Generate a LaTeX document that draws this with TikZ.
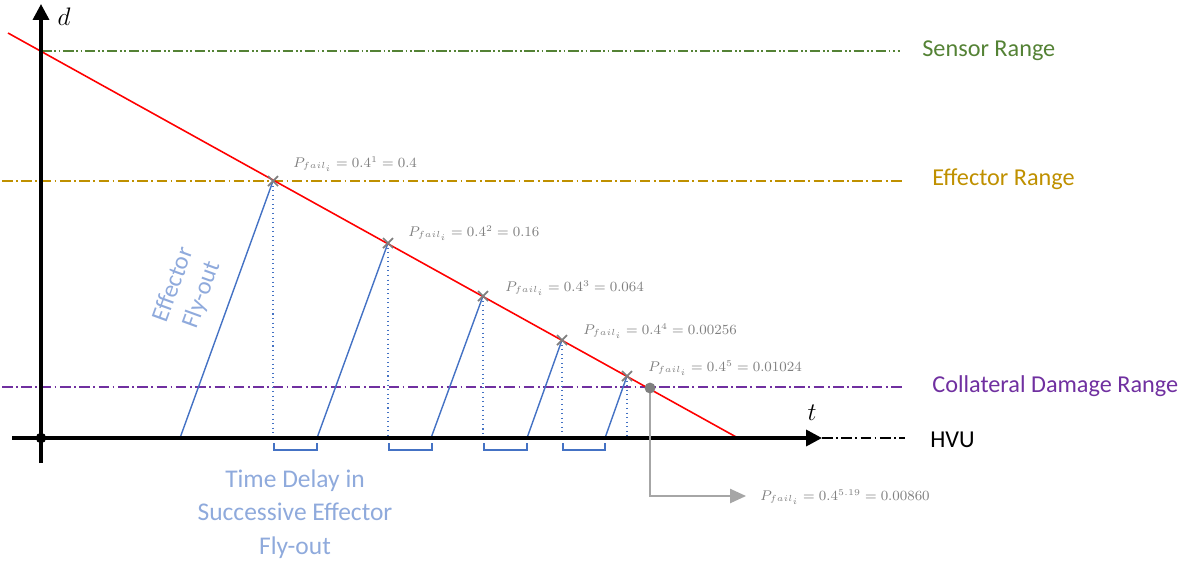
\documentclass[tikz,border=0pt]{standalone}
\usepackage{fontspec}
\setmainfont{Carlito}
\usetikzlibrary{arrows.meta,calc}
\definecolor{sensorgreen}{HTML}{548235}
\definecolor{effgold}{HTML}{BF9000}
\definecolor{collpurple}{HTML}{7030A0}
\definecolor{flyblue}{HTML}{4472C4}
\definecolor{lightblue}{HTML}{8FAADC}
\definecolor{labgray}{HTML}{7F7F7F}
\definecolor{arrgray}{HTML}{A6A6A6}
\tikzset{
  axisline/.style={line width=2pt,-{Triangle[width=9pt,length=9pt]}},
  rangeline/.style={line width=0.8pt,dash pattern=on 6pt off 2pt on 1pt off 2pt},
  sensorline/.style={line width=0.8pt,dash pattern=on 6pt off 1.5pt on 1pt off 1.5pt on 1pt off 1.5pt},
  flyline/.style={flyblue,line width=0.8pt},
  dropline/.style={flyblue,line width=0.6pt,dotted},
  bracketline/.style={flyblue,line width=0.8pt},
  pfail/.style={labgray,anchor=west,inner sep=0pt,font=\fontsize{7.8}{9}\selectfont},
  rangelabel/.style={anchor=west,inner sep=0pt,font=\fontsize{13.8}{16}\selectfont},
  crossmark/.style={labgray,line width=1pt},
}
\begin{document}
\begin{tikzpicture}[x=0.02cm,y=-0.02cm]
\useasboundingbox (0,0) rectangle (1200,562);
% coordinates
\coordinate (o) at (41,438);
\coordinate (ybot) at (41,463);
\coordinate (ytop) at (41,4);
\coordinate (xleft) at (12,438);
\coordinate (xright) at (822,438);
\coordinate (hvuend) at (905,438);
\coordinate (r1) at (8,33);
\coordinate (r2) at (738,438);
\coordinate (c1) at (273,181);
\coordinate (c2) at (388,243);
\coordinate (c3) at (483,296);
\coordinate (c4) at (562,340);
\coordinate (c5) at (627,376);
\coordinate (l1) at (180,438);
\coordinate (l2) at (317,438);
\coordinate (l3) at (431,438);
\coordinate (l4) at (527,438);
\coordinate (l5) at (605,438);
\coordinate (gd) at (650,388);
\coordinate (ga) at (746,496);

% range lines
\draw[sensorline,sensorgreen] (41,51) -- (900,51);
\draw[rangeline,effgold] (2,181) -- (902,181);
\draw[rangeline,collpurple] (2,387) -- (905,387);
\draw[rangeline,black,line width=0.7pt] (xright) -- (hvuend);

% range labels
\node[rangelabel,sensorgreen] (lsensor) at (922,51) {Sensor Range};
\node[rangelabel,effgold] (leff) at (932,179) {Effector Range};
\node[rangelabel,collpurple] (lcoll) at (932,386) {Collateral Damage Range};
\node[rangelabel,black] (lhvu) at (930,440) {HVU};

% dropped dotted lines
\foreach \i in {1,...,5} {
  \draw[dropline] (c\i) -- (c\i |- o);
}
% fly-out lines
\foreach \i in {1,...,5} {
  \draw[flyline] (l\i) -- (c\i);
}
% brackets
\draw[bracketline] (274,443) -- (274,450) -- (317,450) -- (317,443);
\draw[bracketline] (389,443) -- (389,450) -- (432,450) -- (432,443);
\draw[bracketline] (484,443) -- (484,450) -- (527,450) -- (527,443);
\draw[bracketline] (563,443) -- (563,450) -- (605,450) -- (605,443);

% red line
\draw[red,line width=0.9pt] (r1) -- (r2);

% axes
\draw[axisline] (ybot) -- (ytop);
\draw[axisline] (xleft) -- (xright);
\fill (o) circle (3pt);
\node[inner sep=0pt,font=\fontsize{15}{18}\selectfont] (dlab) at (64,17) {$d$};
\node[inner sep=0pt,font=\fontsize{15}{18}\selectfont] (tlab) at (812,413) {$t$};

% crosses
\foreach \i in {1,...,5} {
  \draw[crossmark] ($(c\i)+(-5,-5)$) -- ($(c\i)+(5,5)$);
  \draw[crossmark] ($(c\i)+(-5,5)$) -- ($(c\i)+(5,-5)$);
}

% probability labels
\node[pfail] (p1) at (293,164) {$P_{fail_i}=0.4^{1}=0.4$};
\node[pfail] (p2) at (408,233) {$P_{fail_i}=0.4^{2}=0.16$};
\node[pfail] (p3) at (505,288) {$P_{fail_i}=0.4^{3}=0.064$};
\node[pfail] (p4) at (583,331) {$P_{fail_i}=0.4^{4}=0.00256$};
\node[pfail] (p5) at (648,368) {$P_{fail_i}=0.4^{5}=0.01024$};
\node[pfail] (p6) at (760,497) {$P_{fail_i}=0.4^{5.19}=0.00860$};

% gray arrow
\draw[arrgray,line width=1pt,-{Triangle[width=8pt,length=9pt]}] (gd) |- (ga);
\fill[labgray] (gd) circle (3.1pt);

% text annotations
\node[lightblue,align=center,rotate=70,inner sep=0pt,font=\fontsize{14}{17}\selectfont] (flyout) at (188,290) {Effector\\Fly-out};
\node[lightblue,align=center,inner sep=0pt,font=\fontsize{14.5}{19}\selectfont] (delay) at (295,514) {Time Delay in\\Successive Effector\\Fly-out};
\end{tikzpicture}
\end{document}
